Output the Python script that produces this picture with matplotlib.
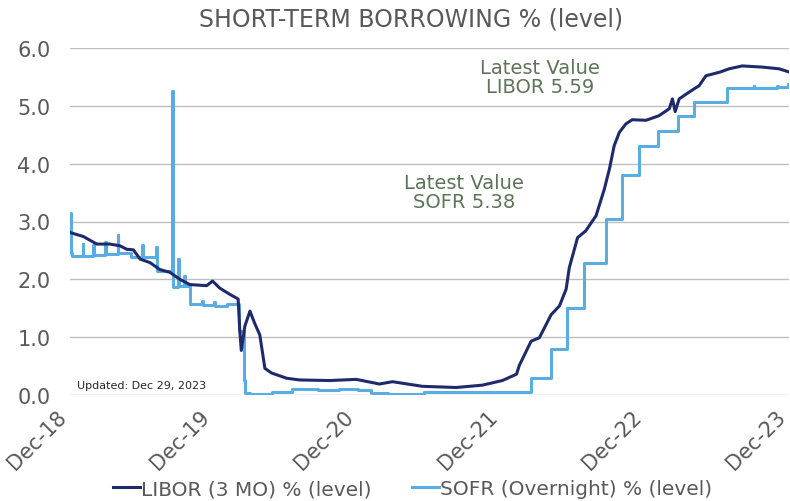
import pandas as pd
import numpy as np
import matplotlib as mpl
mpl.use('Agg')
import matplotlib.pyplot as plt

plt.rcParams['font.family'] = ['DejaVu Sans']

# LIBOR 3M
libor_dates = ['2018-12-31','2019-02-03','2019-03-09','2019-04-11','2019-05-07','2019-05-24',
	'2019-06-10','2019-06-27','2019-07-22','2019-08-16','2019-09-11','2019-10-06','2019-10-31',
	'2019-12-13','2019-12-28','2020-01-15','2020-02-10','2020-03-02','2020-03-06','2020-03-10',
	'2020-03-19','2020-04-01','2020-04-13','2020-04-26','2020-05-09','2020-05-26','2020-07-03',
	'2020-08-05','2020-10-20','2020-12-27','2021-02-24','2021-03-29','2021-06-13','2021-09-07',
	'2021-11-12','2022-01-02','2022-02-07','2022-02-14','2022-03-16','2022-04-06','2022-05-06',
	'2022-05-27','2022-06-13','2022-06-21','2022-07-12','2022-08-02','2022-08-28','2022-09-18',
	'2022-10-01','2022-10-13','2022-10-26','2022-11-12','2022-11-28','2023-01-02','2023-02-04',
	'2023-03-02','2023-03-10','2023-03-17','2023-03-27','2023-04-22','2023-05-17','2023-06-03',
	'2023-07-07','2023-08-01','2023-09-03','2023-10-24','2023-12-06','2023-12-29']
libor_vals = [2.81,2.74,2.61,2.61,2.58,2.52,
	2.51,2.35,2.29,2.17,2.12,2.00,1.91,
	1.89,1.97,1.85,1.74,1.66,1.14,0.77,
	1.19,1.45,1.24,1.04,0.46,0.38,0.29,
	0.26,0.25,0.27,0.19,0.23,0.15,0.13,
	0.17,0.25,0.36,0.51,0.93,0.99,1.39,
	1.54,1.83,2.20,2.72,2.84,3.10,3.56,
	3.91,4.31,4.54,4.69,4.76,4.75,4.83,
	4.95,5.12,4.90,5.12,5.24,5.35,5.52,
	5.58,5.64,5.69,5.67,5.64,5.59]

# SOFR overnight (step series with spikes)
sofr_dates = ['2018-12-31','2019-01-02','2019-01-04','2019-02-01','2019-02-03','2019-02-28',
	'2019-03-01','2019-03-29','2019-04-01','2019-05-01','2019-05-03','2019-06-03','2019-07-03',
	'2019-07-05','2019-08-06','2019-08-08','2019-09-17','2019-09-18','2019-10-01','2019-10-03',
	'2019-10-16','2019-10-18','2019-11-01','2019-12-02','2019-12-03','2019-12-31','2020-01-02',
	'2020-02-03','2020-03-03','2020-03-16','2020-03-20','2020-04-01','2020-05-27','2020-07-17',
	'2020-09-22','2020-11-12','2020-12-31','2021-02-03','2021-03-17','2021-06-17','2022-03-17',
	'2022-05-05','2022-06-16','2022-07-28','2022-09-22','2022-11-03','2022-12-15','2023-02-02',
	'2023-03-23','2023-05-04','2023-07-27','2023-10-02','2023-10-04','2023-12-01','2023-12-03',
	'2023-12-28','2023-12-29']
sofr_vals = [3.15,2.46,2.40,2.61,2.40,2.60,
	2.42,2.65,2.44,2.77,2.45,2.38,2.60,
	2.38,2.56,2.14,5.25,1.86,2.35,1.88,
	2.05,1.88,1.57,1.62,1.55,1.60,1.54,
	1.58,1.10,0.26,0.04,0.01,0.06,0.11,
	0.09,0.11,0.09,0.03,0.01,0.05,0.29,
	0.79,1.50,2.28,3.04,3.80,4.31,4.57,
	4.83,5.06,5.31,5.35,5.31,5.35,5.32,
	5.33,5.38]

tick_dates = ['2018-12-31','2019-12-31','2020-12-31','2021-12-31','2022-12-31','2023-12-31']
tick_labels = ['Dec-18','Dec-19','Dec-20','Dec-21','Dec-22','Dec-23']

libor_c = '#1f2a6b'
sofr_c = '#5aade3'
grey = '#595959'
note_c = '#5d7459'

fig = plt.figure(figsize=(7.9, 5.02), dpi=100)
ax = fig.add_axes([70/790, 1-396/502, 719/790, (396-49)/502])

ax.plot(pd.to_datetime(libor_dates), libor_vals, color=libor_c, lw=2.2, label='LIBOR (3 MO) % (level)', zorder=3)
ax.plot(pd.to_datetime(sofr_dates), sofr_vals, color=sofr_c, lw=2.2, drawstyle='steps-post',
	label='SOFR (Overnight) % (level)', zorder=2)

ax.set_ylim(0, 6)
ax.set_yticks(np.arange(0, 6.1, 1.0))
ax.yaxis.set_major_formatter(mpl.ticker.FormatStrFormatter('%.1f'))
ax.set_xlim(pd.Timestamp(tick_dates[0]), pd.Timestamp(tick_dates[-1]))
ax.set_xticks(pd.to_datetime(tick_dates))
ax.set_xticklabels(tick_labels, rotation=45, ha='right')

ax.grid(axis='y', color='#bfbfbf', lw=1)
ax.set_axisbelow(True)
for s in ax.spines.values():
	s.set_visible(False)
ax.tick_params(axis='both', length=0, colors=grey)
ax.tick_params(axis='y', pad=14, labelsize=15)
ax.tick_params(axis='x', pad=8, labelsize=15)

fig.text(0.52, 0.962, 'SHORT-TERM BORROWING % (level)', ha='center', va='center', fontsize=17, color=grey)

ax.text(pd.Timestamp('2022-04-08'), 5.50, 'Latest Value\nLIBOR 5.59', ha='center', va='center',
	fontsize=14, color=note_c, linespacing=1.0)
ax.text(pd.Timestamp('2021-09-26'), 3.51, 'Latest Value\nSOFR 5.38', ha='center', va='center',
	fontsize=14, color=note_c, linespacing=1.0)
ax.text(0.01, 0.03, 'Updated: Dec 29, 2023', transform=ax.transAxes, fontsize=8, color='#262626', va='center')

fig.legend(loc='center', bbox_to_anchor=(0.522, 0.024), ncol=2, frameon=False, fontsize=14.5,
	handlelength=1.35, handletextpad=0.05, columnspacing=2.0, labelcolor=grey)

fig.savefig('out.png', dpi=100)
